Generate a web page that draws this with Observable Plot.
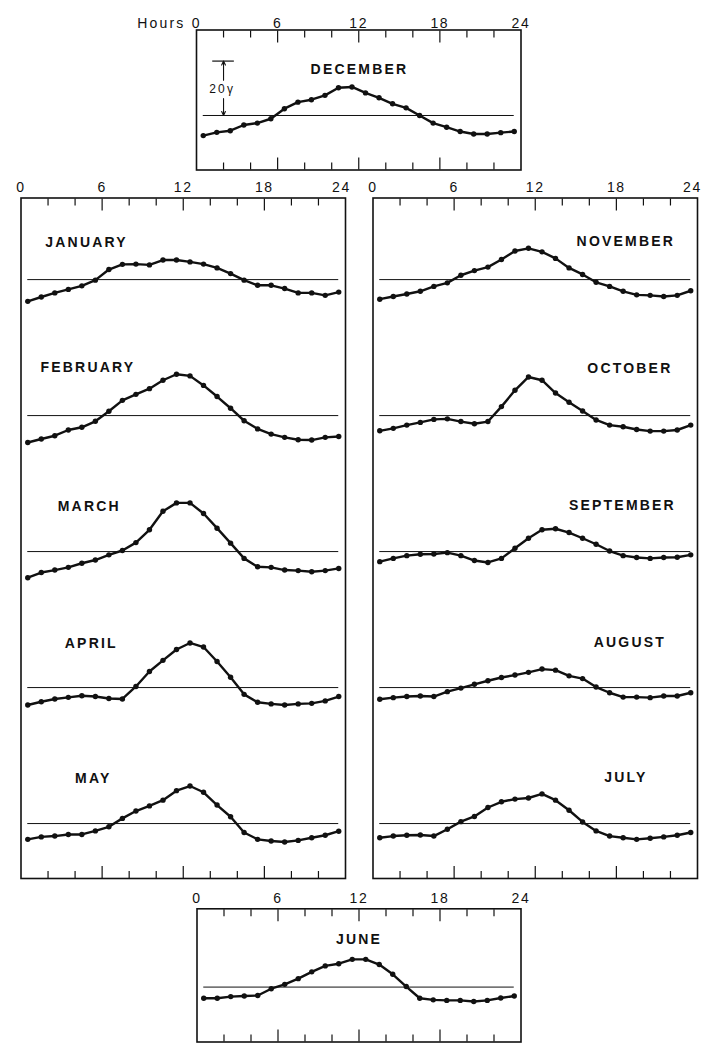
<!DOCTYPE html>
<html>
<head>
<meta charset="utf-8">
<script src="https://cdn.jsdelivr.net/npm/d3@7"></script>
<script src="https://cdn.jsdelivr.net/npm/@observablehq/plot@0.6"></script>
<style>
  html, body { margin: 0; padding: 0; background: #fff; }
  #chart { position: relative; width: 702px; height: 1043px; overflow: hidden; background: #fff;
           font-family: "Liberation Sans", Arial, sans-serif; color: #111; }
  .panel { position: absolute; }
  .panel svg { overflow: visible; }
  .panel g[aria-label="text"] text { letter-spacing: 2.2px; }
  .panel g[aria-label="x-axis tick label"] text { letter-spacing: 1.6px; }
</style>
</head>
<body>
<div id="chart"></div>
<script>
// ---------------- data (hourly deviations, gamma) ----------------
const hours = [0.5, 1.5, 2.5, 3.5, 4.5, 5.5, 6.5, 7.5, 8.5, 9.5, 10.5, 11.5,
               12.5, 13.5, 14.5, 15.5, 16.5, 17.5, 18.5, 19.5, 20.5, 21.5, 22.5, 23.5];

const december  = [-7.4,-6.2,-5.6,-3.5,-2.8,-1.2, 2.5, 4.9, 5.8, 7.4,10.2,10.5, 8.3, 6.5, 4.3, 2.8, 0.0,-2.8,-4.3,-5.9,-6.8,-6.8,-6.3,-5.9];
const january   = [-8.0,-6.4,-4.9,-3.6,-2.3,-0.2, 3.7, 5.6, 5.7, 5.4, 7.2, 7.2, 6.5, 5.7, 4.3, 2.2,-0.2,-2.1,-2.1,-3.3,-4.9,-4.9,-5.8,-4.6];
const february  = [-9.9,-8.6,-7.4,-5.3,-4.3,-2.1, 1.6, 5.6, 7.8, 9.9,13.0,15.2,14.6,11.1, 7.0, 2.7,-1.9,-4.9,-6.8,-8.0,-8.9,-9.0,-8.0,-7.7];
const march     = [-9.6,-7.7,-6.8,-5.8,-4.3,-3.1,-1.2, 0.4, 3.3, 8.0,14.8,17.9,17.9,14.0, 8.6, 3.1,-2.5,-5.6,-5.8,-6.8,-7.0,-7.4,-7.0,-6.2];
const april     = [-6.4,-5.2,-4.2,-3.6,-3.0,-3.3,-4.0,-4.2, 0.4, 5.9,10.0,14.0,16.4,14.9, 9.6, 3.8,-2.5,-5.4,-6.0,-6.4,-6.0,-5.8,-4.9,-3.3];
const may       = [-5.8,-4.9,-4.6,-4.0,-4.0,-2.7,-1.2, 1.9, 4.6, 6.5, 8.6,12.1,13.8,11.5, 6.8, 2.5,-3.3,-5.8,-6.4,-6.8,-6.2,-5.2,-4.3,-2.8];
const june      = [-4.1,-4.1,-3.5,-3.3,-3.1,-0.6, 1.0, 3.1, 5.6, 7.8, 8.6,10.2,10.2, 8.3, 4.7, 0.2,-4.1,-4.7,-4.9,-4.9,-5.3,-4.9,-4.0,-3.3];
const july      = [-5.2,-4.6,-4.3,-4.2,-4.6,-2.1, 0.7, 2.6, 5.9, 8.0, 9.0, 9.4,10.9, 8.6, 4.9, 0.6,-2.7,-4.6,-5.2,-5.8,-5.4,-4.9,-4.3,-3.3];
const august    = [-4.3,-3.7,-3.3,-3.1,-3.3,-1.5,-0.2, 1.2, 2.5, 3.7, 4.6, 5.6, 6.8, 6.4, 4.3, 3.3, 0.2,-1.9,-3.5,-3.5,-3.7,-3.1,-3.1,-1.9];
const september = [-3.7,-2.5,-1.5,-1.0,-0.9,-0.4,-1.5,-3.3,-4.0,-2.5, 1.2, 4.9, 8.0, 8.4, 7.0, 4.9, 2.7, 0.2,-1.5,-2.2,-2.5,-2.2,-2.1,-1.2];
const october   = [-5.6,-4.7,-3.5,-2.5,-1.4,-1.2,-2.2,-3.0,-2.2, 3.3, 9.3,14.2,13.0, 8.3, 4.9, 1.7,-1.6,-3.5,-4.1,-5.1,-5.7,-5.7,-5.3,-3.5];
const november  = [-7.2,-6.2,-5.3,-4.3,-2.5,-1.2, 1.6, 3.3, 4.6, 7.4,10.5,11.5,10.2, 7.8, 4.3, 1.9,-1.0,-2.5,-4.3,-5.6,-5.8,-6.2,-5.8,-4.1];

const leftMonthNames  = ["JANUARY", "FEBRUARY", "MARCH", "APRIL", "MAY"];
const rightMonthNames = ["NOVEMBER", "OCTOBER", "SEPTEMBER", "AUGUST", "JULY"];
const hourTickLabels = [0, 6, 12, 18];
const endTickLabel = [24];
const majorTicks = [6, 12, 18];
const minorTicks = [2, 4, 8, 10, 14, 16, 20, 22];
const scaleValue = 20;      // gamma
const scaleLabel = "20γ";
const axisWord = "Hours";

// ---------------- layout ----------------
const STEP = 50;            // gamma between stacked baselines in the tall panels
const INK = "#111";
const seriesByName = {
  JANUARY: january, FEBRUARY: february, MARCH: march, APRIL: april, MAY: may,
  JUNE: june, JULY: july, AUGUST: august, SEPTEMBER: september, OCTOBER: october,
  NOVEMBER: november, DECEMBER: december
};
// label placement: [hour of label centre, height above baseline in gamma]
const labelPlace = {
  DECEMBER: [12.05, 17.0], JUNE: [12.0, 17.6],
  JANUARY: [4.85, 13.8], FEBRUARY: [4.95, 17.8], MARCH: [5.05, 16.5], APRIL: [5.2, 16.2], MAY: [5.35, 16.7],
  NOVEMBER: [18.7, 14.0], OCTOBER: [19.0, 17.2], SEPTEMBER: [18.45, 17.0], AUGUST: [19.0, 16.5], JULY: [18.7, 16.8]
};

const panels = [
  {left: 0, top: 0, width: 702, height: 180, mL: 196, mR: 181.5, mT: 29.5, mB: 10.5,
   yDomain: [-20.04, 31.43], names: ["DECEMBER"], tickPad: 2, endDx: 0, hoursWord: true, scaleBar: true},
  {left: 0, top: 175, width: 359, height: 710, mL: 20.5, mR: 14, mT: 22.5, mB: 7,
   yDomain: [-220.2, 30], names: leftMonthNames, tickPad: 6, endDx: -4},
  {left: 359, top: 175, width: 343, height: 710, mL: 13.5, mR: 5, mT: 22.5, mB: 7,
   yDomain: [-220.2, 30], names: rightMonthNames, tickPad: 6, endDx: -5},
  {left: 0, top: 880, width: 702, height: 163, mL: 196.5, mR: 181.5, mT: 28.3, mB: 1.5,
   yDomain: [-20.2, 28.8], names: ["JUNE"], tickPad: 6, endDx: 0}
];

const chart = document.getElementById("chart");

for (const p of panels) {
  const rows = p.names.flatMap((name, k) =>
    seriesByName[name].map((v, i) => ({month: name, hour: hours[i], y: v - k * STEP})));
  const baselines = p.names.map((name, k) => ({month: name, y: -k * STEP}));
  const labels = p.names.map((name, k) => ({month: name, hour: labelPlace[name][0], y: labelPlace[name][1] - k * STEP}));

  const marks = [
    Plot.frame({stroke: INK, strokeWidth: 1.6}),
    // inward ticks on top and bottom edges
    Plot.axisX(minorTicks, {anchor: "top", tickSize: -7, fill: "none", label: null, stroke: INK, strokeWidth: 1.2}),
    Plot.axisX(majorTicks, {anchor: "top", tickSize: -12, fill: "none", label: null, stroke: INK, strokeWidth: 1.2}),
    Plot.axisX(minorTicks, {anchor: "bottom", tickSize: -7, fill: "none", label: null, stroke: INK, strokeWidth: 1.2}),
    Plot.axisX(majorTicks, {anchor: "bottom", tickSize: -12, fill: "none", label: null, stroke: INK, strokeWidth: 1.2}),
    // hour labels above the box
    Plot.axisX(hourTickLabels, {anchor: "top", tickSize: 0, tickPadding: p.tickPad, label: null, fontSize: 14, fill: INK}),
    Plot.axisX(endTickLabel, {anchor: "top", tickSize: 0, tickPadding: p.tickPad, dx: p.endDx, label: null, fontSize: 14, fill: INK}),
    // zero lines
    Plot.ruleY(baselines, {y: "y", x1: hours[0], x2: hours[hours.length - 1], stroke: INK, strokeWidth: 1}),
    // curves
    Plot.line(rows, {x: "hour", y: "y", z: "month", stroke: INK, strokeWidth: 2.4}),
    Plot.dot(rows, {x: "hour", y: "y", r: 2.7, fill: INK, stroke: null}),
    // month names
    Plot.text(labels, {x: "hour", y: "y", text: "month", fontSize: 14, fontWeight: "bold", fill: INK})
  ];

  if (p.hoursWord) {
    marks.push(Plot.text([axisWord], {x: 0, frameAnchor: "top", lineAnchor: "bottom", textAnchor: "end",
      dx: -11, dy: -p.tickPad, fontSize: 14, fill: INK}));
  }
  if (p.scaleBar) {
    const barHour = 2;
    marks.push(
      Plot.ruleY([scaleValue], {y: d => d, x1: barHour - 0.8, x2: barHour + 0.8, stroke: INK, strokeWidth: 1.2}),
      Plot.arrow([{a: scaleValue * 0.65, b: scaleValue}, {a: scaleValue * 0.31, b: 0}],
        {x1: () => barHour, x2: () => barHour, y1: "a", y2: "b", stroke: INK, strokeWidth: 1.1, headLength: 6, headAngle: 50}),
      Plot.text([scaleLabel], {x: barHour - 0.1, y: scaleValue * 0.48, fontSize: 12, fill: INK})
    );
  }

  const svg = Plot.plot({
    width: p.width, height: p.height,
    marginLeft: p.mL, marginRight: p.mR, marginTop: p.mT, marginBottom: p.mB,
    x: {domain: [0, 24], label: null},
    y: {domain: p.yDomain, axis: null, label: null},
    style: {background: "transparent", fontFamily: "\"Liberation Sans\", Arial, sans-serif", fontSize: "14px", color: INK, overflow: "visible"},
    marks
  });
  const holder = document.createElement("div");
  holder.className = "panel";
  holder.style.left = p.left + "px";
  holder.style.top = p.top + "px";
  holder.style.width = p.width + "px";
  holder.style.height = p.height + "px";
  holder.appendChild(svg);
  chart.appendChild(holder);
}
</script>
</body>
</html>
